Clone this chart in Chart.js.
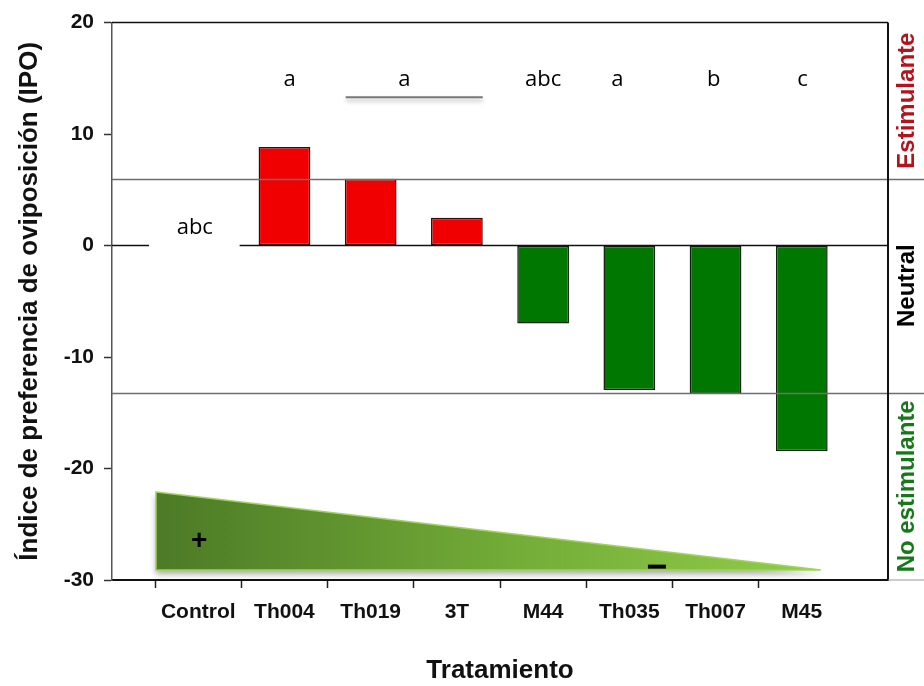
<!DOCTYPE html>
<html>
<head>
<meta charset="utf-8">
<script src="https://cdn.jsdelivr.net/npm/chart.js@4.4.1/dist/chart.umd.min.js"></script>
<style>
  html, body { margin: 0; padding: 0; background: #fff; }
  #wrap { width: 924px; height: 686px; position: relative; }
</style>
</head>
<body>
<div id="wrap"><canvas id="ipoChart"></canvas></div>
<script>
// values
const categories = ['Control', 'Th004', 'Th019', '3T', 'M44', 'Th035', 'Th007', 'M45'];
const ipoValues = [0, 8.83, 6.0, 2.5, -7.0, -12.95, -13.3, -18.45];
const yTicks = [20, 10, 0, -10, -20, -30];
const thresholds = [6.0, -13.2];
const groupLetters = ['a', 'a', 'abc', 'a', 'b', 'c'];
const controlLetter = 'abc';
const zoneLabels = ['Estimulante', 'Neutral', 'No estimulante'];
const zoneColors = ['#b5121b', '#000000', '#17781a'];

// where the letters sit (category index space, y value)
const letterPos = [2.06, 3.39, 5.0, 5.86, 6.98, 8.01];
const letterY = 14.9;

const labels = [''].concat(categories, ['']);
const padded = [null].concat(ipoValues, [null]);
const lastIdx = labels.length - 1;

const ARIAL = "'Liberation Sans', Arial, sans-serif";

const overlay = {
    id: 'overlay',
    afterDatasetsDraw(chart) {
        const ctx = chart.ctx;
        const xs = chart.scales.x, ys = chart.scales.y;
        const area = chart.chartArea;
        const W = chart.width;
        ctx.save();

        // threshold lines run through the side box
        ctx.strokeStyle = '#6e6e6e';
        ctx.lineWidth = 1.5;
        thresholds.forEach(t => {
            const y = Math.round(ys.getPixelForValue(t)) + 0.5;
            ctx.beginPath();
            ctx.moveTo(area.left, y);
            ctx.lineTo(W, y);
            ctx.stroke();
        });

        // zero line
        const y0 = ys.getPixelForValue(0);
        ctx.strokeStyle = '#111';
        ctx.lineWidth = 1.5;
        ctx.beginPath();
        ctx.moveTo(area.left, y0);
        ctx.lineTo(area.right, y0);
        ctx.stroke();

        // frame: top + right, faint bottom extension
        ctx.strokeStyle = '#111';
        ctx.lineWidth = 1.5;
        ctx.beginPath();
        ctx.moveTo(area.left, area.top);
        ctx.lineTo(area.right, area.top);
        ctx.stroke();
        ctx.lineWidth = 2;
        ctx.beginPath();
        ctx.moveTo(area.right, area.top);
        ctx.lineTo(area.right, area.bottom);
        ctx.stroke();
        ctx.strokeStyle = '#9a9a9a';
        ctx.lineWidth = 1;
        ctx.beginPath();
        ctx.moveTo(area.right, area.bottom);
        ctx.lineTo(W, area.bottom);
        ctx.stroke();

        // control letter with white box over the zero line
        const cx = xs.getPixelForValue(0.96);
        const cy = ys.getPixelForValue(1.63);
        ctx.fillStyle = '#fff';
        ctx.fillRect(xs.getPixelForValue(0.43), cy - 22, xs.getPixelForValue(1.48) - xs.getPixelForValue(0.43), 44);
        ctx.fillStyle = '#000';
        ctx.font = "22px 'Open Sans', sans-serif";
        ctx.textAlign = 'center';
        ctx.textBaseline = 'middle';
        ctx.fillText(controlLetter, cx, cy);

        // group letters
        groupLetters.forEach((l, i) => {
            ctx.fillText(l, xs.getPixelForValue(letterPos[i]), ys.getPixelForValue(letterY));
        });

        // bar under the Th019/3T letter
        const ly = ys.getPixelForValue(13.3);
        ctx.save();
        ctx.shadowColor = 'rgba(0,0,0,0.3)';
        ctx.shadowBlur = 4;
        ctx.shadowOffsetY = 3;
        ctx.strokeStyle = '#777';
        ctx.lineWidth = 2;
        ctx.beginPath();
        ctx.moveTo(xs.getPixelForValue(2.71), ly);
        ctx.lineTo(xs.getPixelForValue(4.3), ly);
        ctx.stroke();
        ctx.restore();

        // gradient wedge
        const tx0 = xs.getPixelForValue(0.51), tx1 = xs.getPixelForValue(8.22);
        const tyTop = ys.getPixelForValue(-22.1), tyBot = ys.getPixelForValue(-29.1);
        const grad = ctx.createLinearGradient(tx0, 0, tx1, 0);
        grad.addColorStop(0, '#4c7a26');
        grad.addColorStop(0.55, '#74ad38');
        grad.addColorStop(1, '#92cc4a');
        ctx.save();
        ctx.shadowColor = 'rgba(0,0,0,0.35)';
        ctx.shadowBlur = 6;
        ctx.shadowOffsetY = 4;
        ctx.beginPath();
        ctx.moveTo(tx0, tyTop);
        ctx.lineTo(tx1, tyBot);
        ctx.lineTo(tx0, tyBot);
        ctx.closePath();
        ctx.fillStyle = grad;
        ctx.fill();
        ctx.restore();
        ctx.strokeStyle = '#9fd45a';
        ctx.lineWidth = 1.5;
        ctx.stroke();

        ctx.fillStyle = '#000';
        ctx.font = 'bold 28px ' + ARIAL;
        ctx.fillText('+', xs.getPixelForValue(1.01), ys.getPixelForValue(-26.5));
        ctx.fillRect(xs.getPixelForValue(6.32) - 9, ys.getPixelForValue(-28.8) - 2, 18, 4);

        // zone labels in the side box
        const bands = [[20, thresholds[0]], [thresholds[0], thresholds[1]], [thresholds[1], -30]];
        ctx.font = 'bold 24px ' + ARIAL;
        bands.forEach((b, i) => {
            const my = (ys.getPixelForValue(b[0]) + ys.getPixelForValue(b[1])) / 2;
            ctx.save();
            ctx.translate(907, my);
            ctx.rotate(-Math.PI / 2);
            ctx.fillStyle = zoneColors[i];
            ctx.fillText(zoneLabels[i], 0, 0);
            ctx.restore();
        });

        ctx.restore();
    }
};

new Chart(document.getElementById('ipoChart').getContext('2d'), {
    type: 'bar',
    data: {
        labels: labels,
        datasets: [{
            label: 'IPO',
            data: padded,
            backgroundColor: padded.map(v => (v !== null && v > 0) ? '#f00000' : '#007800'),
            borderColor: padded.map(v => (v !== null && v > 0) ? '#3a0808' : '#0b220b'),
            borderWidth: 1.5,
            borderSkipped: false,
            barPercentage: 0.6,
            categoryPercentage: 1.0
        }]
    },
    options: {
        responsive: true,
        maintainAspectRatio: false,
        animation: false,
        devicePixelRatio: 1,
        layout: { padding: { top: 22, right: 36, left: 0, bottom: 0 } },
        plugins: {
            legend: { display: false },
            tooltip: { enabled: false }
        },
        scales: {
            x: {
                offset: false,
                grid: {
                    display: true,
                    drawOnChartArea: false,
                    tickLength: 8,
                    tickWidth: 1.5,
                    tickColor: c => (c.index === 0 || c.index === lastIdx) ? 'rgba(0,0,0,0)' : '#222'
                },
                border: { display: true, color: '#111', width: 2 },
                ticks: {
                    color: '#111',
                    padding: 12,
                    maxRotation: 0,
                    autoSkip: false,
                    font: { family: ARIAL, size: 21, weight: 'bold' }
                },
                title: {
                    display: true,
                    text: 'Tratamiento',
                    color: '#111',
                    padding: { top: 0, bottom: 0 },
                    font: { family: ARIAL, size: 26, weight: 'bold' }
                },
                afterFit: s => { s.height = 106; }
            },
            y: {
                min: yTicks[yTicks.length - 1],
                max: yTicks[0],
                ticks: {
                    stepSize: 10,
                    color: '#111',
                    padding: 10,
                    font: { family: ARIAL, size: 21, weight: 'bold' }
                },
                grid: {
                    display: true,
                    drawOnChartArea: false,
                    tickLength: 8,
                    tickWidth: 1.5,
                    tickColor: '#333'
                },
                border: { display: true, color: '#555', width: 1.5 },
                title: {
                    display: true,
                    text: 'Índice de preferencia de oviposición (IPO)',
                    color: '#111',
                    padding: { top: 14, bottom: 0 },
                    font: { family: ARIAL, size: 26, weight: 'bold' }
                },
                afterFit: s => { s.width = 112; }
            }
        }
    },
    plugins: [overlay]
});
</script>
</body>
</html>
